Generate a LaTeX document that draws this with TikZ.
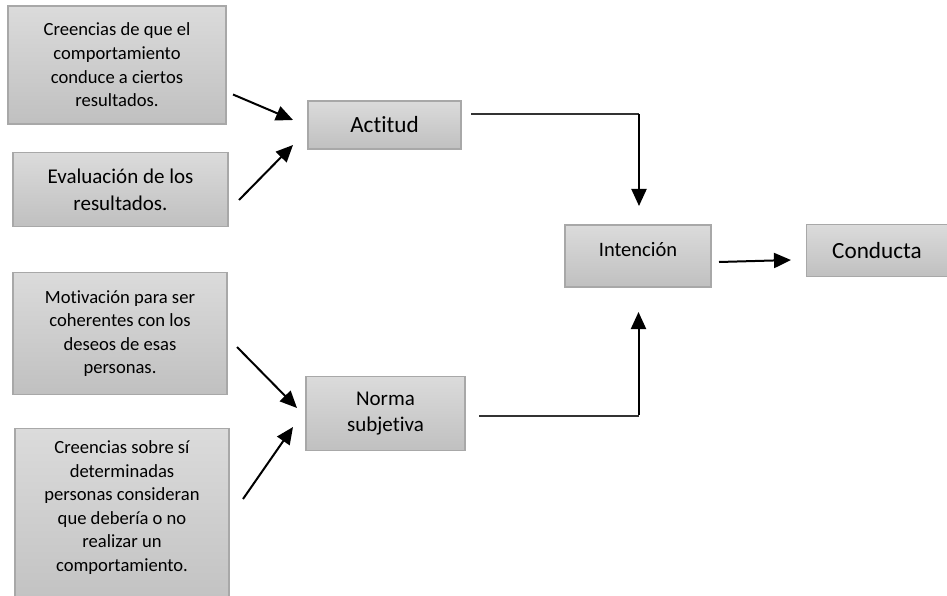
\documentclass[tikz,border=0pt]{standalone}
\usepackage{fontspec}
\setmainfont{Carlito}[RawFeature={-liga;-clig;-calt;-dlig}]
\usetikzlibrary{arrows.meta}
\definecolor{boxtop}{RGB}{219,219,219}
\definecolor{boxbot}{RGB}{192,192,192}
\definecolor{boxline}{RGB}{168,168,168}
\tikzset{
  box/.style={draw=boxline, line width=1.2pt, top color=boxtop, bottom color=boxbot,
    rectangle, inner sep=0pt, align=center, text=black},
  small/.style={font=\fontsize{18.6}{23.6}\selectfont},
  large/.style={font=\fontsize{21}{26.8}\selectfont},
  huge/.style={font=\fontsize{23.2}{27}\selectfont},
  arr/.style={line width=2pt, -{Triangle[length=17pt,width=15pt]}},
  thin line/.style={line width=1.4pt, draw=black!80},
}
\begin{document}
\begin{tikzpicture}[x=1pt,y=-1pt]
\useasboundingbox (0,0) rectangle (947,596);
\clip (0,0) rectangle (947,596);
% left boxes
\node[box, small, minimum width=218, minimum height=118] (b1) at (117,65)
  {Creencias de que el\\comportamiento\\conduce a ciertos\\resultados.};
\node[box, large, minimum width=215, minimum height=74] (b2) at (120.5,189.5)
  {Evaluación de los\\resultados.};
\node[box, small, minimum width=214, minimum height=122] (b3) at (120,333.5)
  {Motivación para ser\\coherentes con los\\deseos de esas\\personas.};
\node[box, small, minimum width=214, minimum height=190, anchor=north] (b4) at (122,428) {};
\node[small, align=center, anchor=north] (b4t) at (122,437)
  {Creencias sobre sí\\determinadas\\personas consideran\\que debería o no\\realizar un\\comportamiento.};
% middle boxes
\node[box, huge, minimum width=153, minimum height=48] (act) at (384.5,125) {Actitud};
\node[box, large, minimum width=159, minimum height=74] (norma) at (385.5,413.5)
  {Norma\\subjetiva};
% right boxes
\node[box, minimum width=146, minimum height=62] (int) at (638,256) {};
\node[font=\fontsize{20.5}{24}\selectfont, anchor=center] (intt) at (638,249.5) {Intención};
\node[box, huge, minimum width=141, minimum height=52] (cond) at (877,250.5) {Conducta};
% connector coordinates
\coordinate (a1s) at (233,94.5);
\coordinate (a1e) at (293,120);
\coordinate (a2s) at (239,200);
\coordinate (a2e) at (293,145);
\coordinate (a3s) at (237,347);
\coordinate (a3e) at (297,408);
\coordinate (a4s) at (243,499);
\coordinate (a4e) at (293,427);
\coordinate (actout) at (471,114);
\coordinate (actcorner) at (639,114);
\coordinate (inttop) at (639,206);
\coordinate (normout) at (479,416);
\coordinate (normcorner) at (638.5,416);
\coordinate (intbot) at (638.5,312);
\coordinate (ints) at (719,262);
\coordinate (conde) at (791,260);
% connectors
\draw[arr] (a1s) -- (a1e);
\draw[arr] (a2s) -- (a2e);
\draw[arr] (a3s) -- (a3e);
\draw[arr] (a4s) -- (a4e);
\draw[thin line] (actout) -- (actcorner);
\draw[arr] (actcorner) -- (inttop);
\draw[thin line] (normout) -- (normcorner);
\draw[arr] ([yshift=1pt]normcorner) -- (intbot);
\draw[arr] (ints) -- (conde);
\end{tikzpicture}
\end{document}
